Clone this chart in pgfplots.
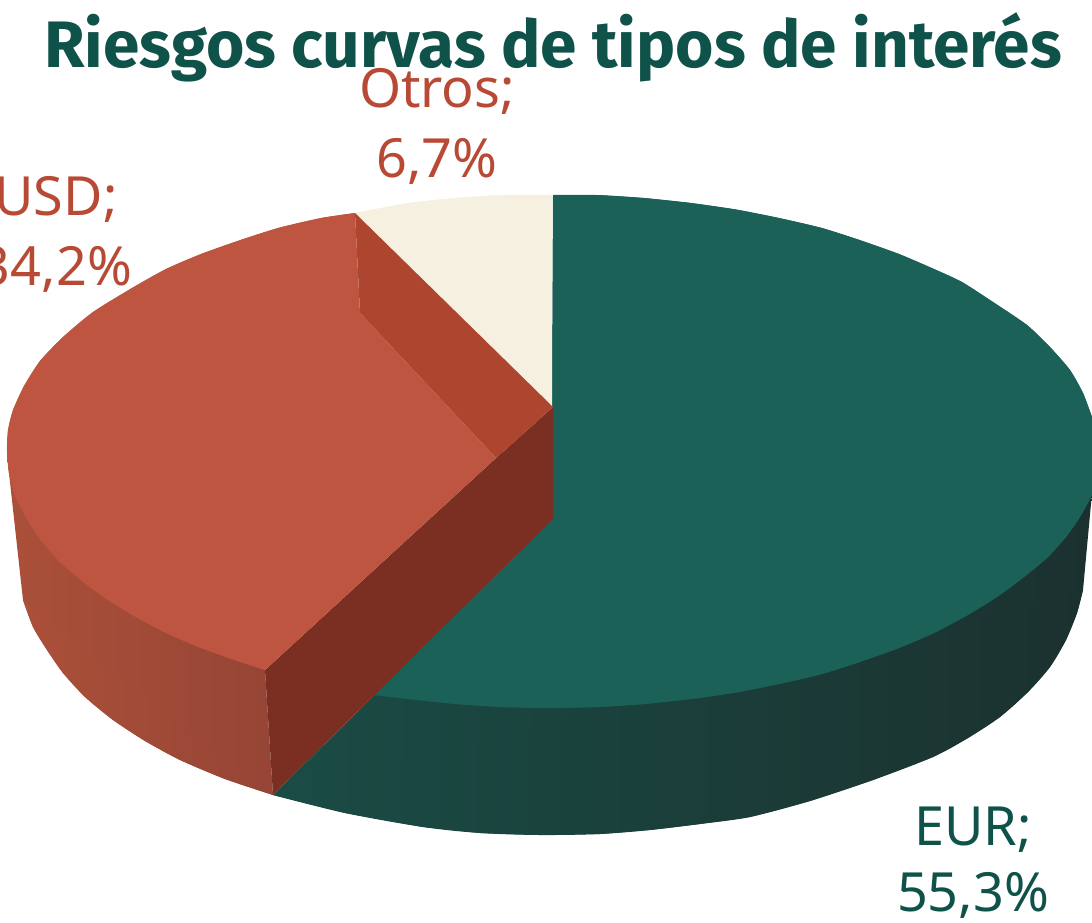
\documentclass[border=0pt]{standalone}
\usepackage{fontspec}
\setmainfont{Noto Sans}
\newfontfamily\titlefont{Fira Sans}
\usepackage{pgfplots}
\pgfplotsset{compat=1.18}
\definecolor{eurtop}{HTML}{1C6158}
\definecolor{eurA}{HTML}{1A4C45}
\definecolor{eurB}{HTML}{193D3B}
\definecolor{eurC}{HTML}{1B312F}
\definecolor{redtop}{HTML}{BD5540}
\definecolor{redA}{HTML}{AB5039}
\definecolor{redB}{HTML}{964536}
\definecolor{redin}{HTML}{AE452F}
\definecolor{reddeep}{HTML}{7A2F22}
\definecolor{cream}{HTML}{F6F0E0}
\definecolor{titlecol}{HTML}{0F5249}
\definecolor{redlab}{HTML}{B84A35}
\definecolor{eurlab}{HTML}{0F5249}
\begin{document}
\begin{tikzpicture}
\path[use as bounding box] (0,0) rectangle (1092pt,922pt);
\clip (0,0) rectangle (1092pt,922pt);
\begin{axis}[
  at={(0pt,0pt)}, anchor=south west,
  width=1092pt, height=922pt, scale only axis,
  hide axis, xmin=0, xmax=1092, ymin=0, ymax=922, y dir=reverse,
  clip=true, no markers]
% EUR wall
\addplot[draw=none, left color=eurA, middle color=eurB, right color=eurC] coordinates {
(273,795)(345,813)(423,827)(480,833)(540,835)(600,834)(650,830)(700,824)(750,817)(810,801)(873,780)(933,757)(968,738)(1000,717)(1028,692)(1050,667)(1066,640)(1077,613)(1083,590)(1092,493)(1092,450)(553,519)} -- cycle;
\addplot[draw=none, smooth, left color=eurA, middle color=eurB, right color=eurC] coordinates {
(273,795)(345,813)(423,827)(480,833)(540,835)(600,834)(650,830)(700,824)(750,817)(810,801)(873,780)(933,757)(968,738)(1000,717)(1028,692)(1050,667)(1066,640)(1077,613)(1083,590)};
% EUR top
\addplot[fill=eurtop, draw=none] coordinates {
(553,195)(597,195)(644,198)(691,203)(736,209.5)(779,218)(822,228)(861,240.5)(899,254)(934,269)(962,282)(993,302)(1027,325)(1050,347)(1070,370)(1083,393)(1092,417)(1100,440)(1102,460)(1099,478)(1093,493)(1080,517)(1066,537)(1047,558)(1024,577)(997,597)(966,616)(934,633)(899,648)(861,661.5)(822,674)(779,684)(736,692.5)(691,699)(644,704)(597,707)(550,708)(503,707)(456,704)(409,699)(374,695)(553,519)} -- cycle;
\addplot[fill=eurtop, draw=none, smooth] coordinates {
(553,195)(597,195)(644,198)(691,203)(736,209.5)(779,218)(822,228)(861,240.5)(899,254)(934,269)(962,282)(993,302)(1027,325)(1050,347)(1070,370)(1083,393)(1092,417)(1100,440)(1102,460)(1099,478)(1093,493)(1080,517)(1066,537)(1047,558)(1024,577)(997,597)(966,616)(934,633)(899,648)(861,661.5)(822,674)(779,684)(736,692.5)(691,699)(644,704)(597,707)(550,708)};
\addplot[fill=eurtop, draw=none, smooth] coordinates {
(550,708)(503,707)(456,704)(409,699)(374,695)};
% Otros
\addplot[fill=cream, draw=none] coordinates {
(552,195)(503,195)(456,198)(409,203)(355,213)(552,407)} -- cycle;
\addplot[fill=cream, draw=none, smooth] coordinates {
(552,195)(503,195)(456,198)(409,203)(355,213)};
% USD outer wall
\addplot[draw=none, left color=redA, right color=redB] coordinates {
(7,455)(23,600)(33,627)(47,650)(63,673)(85,697)(113,720)(145,741)(180,760)(225,779)(273,795)(265,670)(200,500)} -- cycle;
\addplot[draw=none, smooth, left color=redA, right color=redB] coordinates {
(23,600)(33,627)(47,650)(63,673)(85,697)(113,720)(145,741)(180,760)(225,779)(273,795)};
% USD inner walls
\addplot[fill=reddeep, draw=none] coordinates {
(553,407)(553,519)(273,795)(265,670)(496,458)} -- cycle;
\addplot[fill=redin, draw=none] coordinates {
(355,213)(553,407)(496,458)(360,313)} -- cycle;
% USD top
\addplot[fill=redtop, draw=none] coordinates {
(355,213)(321,218)(278,228)(239,240.5)(201,254)(166,269)(132,288)(93,312)(63,337)(40,361)(24,386)(13,410)(8,430)(7,451)(9,473)(15,496)(26,517.5)(40,539)(58,560)(80,579.5)(105,598)(134,616)(166,633)(201,648)(239,661.5)(265,670)(496,458)(360,313)} -- cycle;
\addplot[fill=redtop, draw=none, smooth] coordinates {
(355,213)(321,218)(278,228)(239,240.5)(201,254)(166,269)(132,288)(93,312)(63,337)(40,361)(24,386)(13,410)(8,430)(7,451)(9,473)(15,496)(26,517.5)(40,539)(58,560)(80,579.5)(105,598)(134,616)(166,633)(201,648)(239,661.5)(265,670)};
\node[anchor=base, text=titlecol, font=\titlefont\bfseries\fontsize{65.7}{66}\selectfont] at (axis cs:553,67) {Riesgos curvas de tipos de interés};
\node[anchor=base, text=redlab, font=\fontsize{54}{54}\selectfont] at (axis cs:437,107) {Otros;};
\node[anchor=base, text=redlab, font=\fontsize{54}{54}\selectfont] at (axis cs:437,177) {6,7\%};
\node[anchor=base, text=redlab, font=\fontsize{54}{54}\selectfont] at (axis cs:56,215) {USD;};
\node[anchor=base, text=redlab, font=\fontsize{54}{54}\selectfont] at (axis cs:56,285) {34,2\%};
\node[anchor=base, text=eurlab, font=\fontsize{54}{54}\selectfont] at (axis cs:973,845) {EUR;};
\node[anchor=base, text=eurlab, font=\fontsize{54}{54}\selectfont] at (axis cs:973,911) {55,3\%};
\end{axis}
\end{tikzpicture}
\end{document}
